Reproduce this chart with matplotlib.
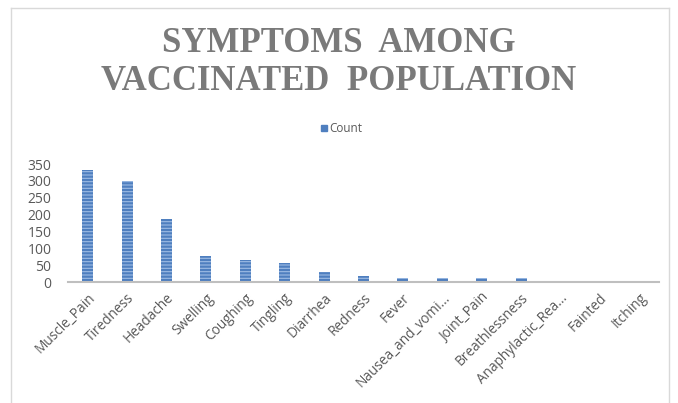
import matplotlib
matplotlib.use("Agg")
import matplotlib.pyplot as plt
from matplotlib.lines import Line2D
from matplotlib.patches import Rectangle

# symptom counts
symptoms = ['Muscle_Pain', 'Tiredness', 'Headache', 'Swelling', 'Coughing', 'Tingling',
            'Diarrhea', 'Redness', 'Fever', 'Nausea_and_vomi...', 'Joint_Pain',
            'Breathlessness', 'Anaphylactic_Rea...', 'Fainted', 'Itching']
counts = [332, 300, 186, 77, 65, 57, 29, 18, 12, 12, 12, 12, 0, 0, 0]
yticks = [0, 50, 100, 150, 200, 250, 300, 350]

W, H = 678, 403
fig = plt.figure(figsize=(W / 100, H / 100), dpi=100)
fig.patch.set_facecolor('white')

# thin grey chart frame
for xs, ys in [([11 / W, 11 / W], [0, 1 - 8 / H]),
               ([11 / W, 669 / W], [1 - 8 / H, 1 - 8 / H]),
               ([669 / W, 669 / W], [0, 1 - 8 / H])]:
    fig.add_artist(Line2D(xs, ys, color='#d9d9d9', lw=1))

ax = fig.add_axes([68 / W, (H - 282) / H, 591 / W, 118 / H])

plt.rcParams['hatch.linewidth'] = 0.8
bars = ax.bar(range(len(symptoms)), counts, width=0.28, color='#4f7fbf',
              linewidth=0, hatch='-----')
for b in bars:
    b.set_edgecolor('#9dbbe3')

ax.set_xlim(-0.5, len(symptoms) - 0.5)
ax.set_ylim(0, 350)
ax.set_yticks(yticks)
ax.set_yticklabels([str(v) for v in yticks], fontsize=10, color='#595959',
                   family='Open Sans')
ax.tick_params(axis='y', length=0, pad=12)
ax.set_xticks(range(len(symptoms)))
ax.set_xticklabels(symptoms, rotation=45, ha='right', rotation_mode='anchor',
                   fontsize=9.8, color='#595959', family='Open Sans')
ax.tick_params(axis='x', length=0, pad=6)
for s in ['top', 'right', 'left']:
    ax.spines[s].set_visible(False)
ax.spines['bottom'].set_color('#bfbfbf')
ax.spines['bottom'].set_linewidth(1.5)

# title
fig.text(339 / W, 1 - 43 / H, 'SYMPTOMS  AMONG', ha='center', va='center',
         fontsize=25, fontweight='bold', family='Liberation Serif', color='#7a7a7a')
fig.text(339 / W, 1 - 82 / H, 'VACCINATED  POPULATION', ha='center', va='center',
         fontsize=25, fontweight='bold', family='Liberation Serif', color='#7a7a7a')

# legend
fig.add_artist(Rectangle((321 / W, 1 - 131 / H), 6 / W, 6 / H, color='#4f7fbf'))
fig.text(329 / W, 1 - 128 / H, 'Count', ha='left', va='center', fontsize=8.5,
         family='Open Sans', color='#595959')

fig.savefig('out.png', dpi=100)
